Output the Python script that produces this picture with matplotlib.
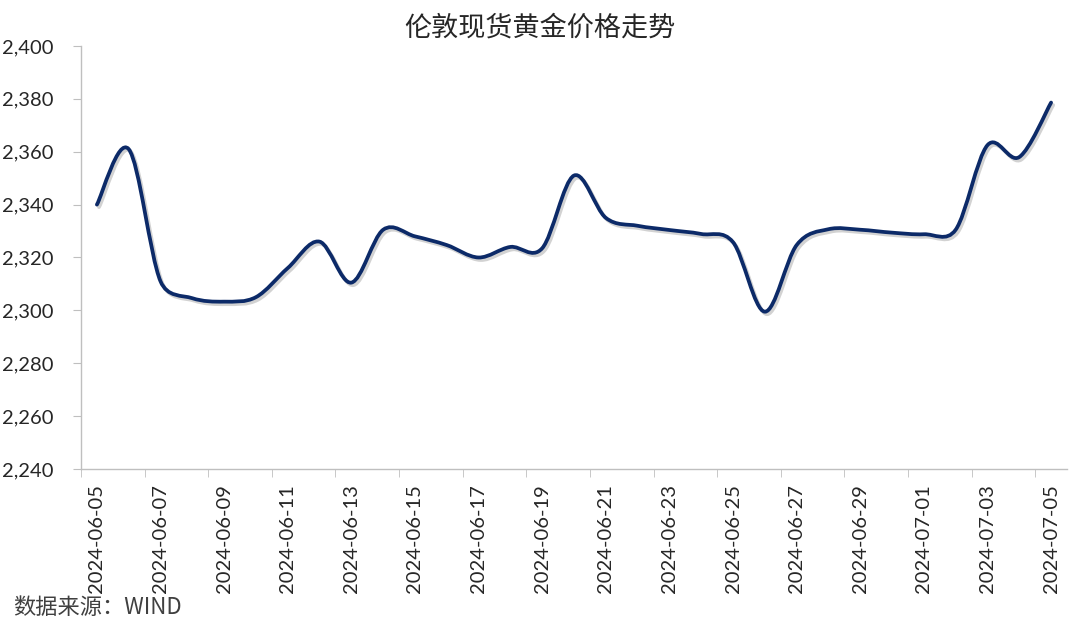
import matplotlib
matplotlib.use('Agg')
import matplotlib.pyplot as plt
import matplotlib.patheffects as pe
from matplotlib.path import Path
from matplotlib.patches import PathPatch
from matplotlib.ticker import FuncFormatter
import numpy as np
import pandas as pd

# Дані: 伦敦现货黄金价格 (щоденні значення)
dates = list(pd.date_range('2024-06-05', '2024-07-05', freq='D').strftime('%Y-%m-%d'))
prices = [2340.0, 2361.0, 2311.0, 2304.6, 2303.3, 2305.0, 2316.0, 2326.0, 2310.5, 2330.5,
          2328.0, 2324.7, 2320.0, 2324.0, 2323.5, 2351.0, 2335.0, 2332.0, 2330.4, 2328.9,
          2325.8, 2299.5, 2324.7, 2330.7, 2330.5, 2329.4, 2328.8, 2330.5, 2362.5, 2358.0,
          2378.6]
y_ticks = list(range(2240, 2401, 20))

title = '伦敦现货黄金价格走势'
source = '数据来源：WIND'

line_color = '#0c2a68'
axis_color = '#bfbfbf'
text_color = '#262626'
cjk = ['Noto Sans CJK SC', 'DejaVu Sans']

plt.rcParams['font.family'] = ['Lato', 'Noto Sans CJK SC', 'DejaVu Sans']

fig = plt.figure(figsize=(10.8, 6.28), dpi=100)
ax = fig.add_axes([81 / 1080, 1 - 469 / 628, (1067 - 81) / 1080, (469 - 46) / 628])
ax.set_xlim(-0.5, len(prices) - 0.5)
ax.set_ylim(y_ticks[0], y_ticks[-1])

# Згладжена лінія як у Excel: Безьє з натягом 1/6, плече не довше половини сегмента
x = np.arange(len(prices))
pts = ax.transData.transform(np.column_stack([x, prices]))  # у пікселях
n = len(pts)


def arm(i, seg):
    t = pts[min(i + 1, n - 1)] - pts[max(i - 1, 0)]
    length = np.linalg.norm(t)
    f = min(1 / 6, seg / (2 * length))
    return t * f


verts = [pts[0]]
codes = [Path.MOVETO]
for i in range(n - 1):
    a, b = pts[i], pts[i + 1]
    seg = np.linalg.norm(b - a)
    verts += [a + arm(i, seg), b - arm(i + 1, seg), b]
    codes += [Path.CURVE4] * 3
verts = ax.transData.inverted().transform(np.array(verts))

curve = PathPatch(Path(verts, codes), facecolor='none', edgecolor=line_color,
                  linewidth=2.7, capstyle='round', joinstyle='round',
                  path_effects=[pe.SimpleLineShadow(offset=(1.5, -1.8), shadow_color='#808080', alpha=0.35),
                                pe.Normal()])
ax.add_patch(curve)

# Осі
ax.set_xticks(x[::2])
ax.set_xticklabels(dates[::2], rotation=90, fontsize=14.5, color=text_color)
ax.set_xticks(np.arange(-0.5, len(prices) - 0.5, 2), minor=True)
ax.tick_params(axis='x', which='major', length=0, pad=11)
ax.tick_params(axis='x', which='minor', length=6, color=axis_color, direction='out')

ax.set_yticks(y_ticks)
ax.yaxis.set_major_formatter(FuncFormatter(lambda v, p: f'{int(v):,}'))
ax.tick_params(axis='y', length=6, color=axis_color, direction='out', pad=14,
               labelsize=14.5, labelcolor=text_color)

for side in ['top', 'right']:
    ax.spines[side].set_visible(False)
for side in ['left', 'bottom']:
    ax.spines[side].set_color(axis_color)
    ax.spines[side].set_linewidth(1)

# Заголовок і джерело
fig.text(0.5, 1 - 28 / 628, title, ha='center', va='center', fontsize=19.5,
         color=text_color, family=cjk)
fig.text(13 / 1080, 1 - 607 / 628, source, ha='left', va='center', fontsize=16,
         color='#404040', family=cjk)

fig.savefig('out.png', dpi=100)
